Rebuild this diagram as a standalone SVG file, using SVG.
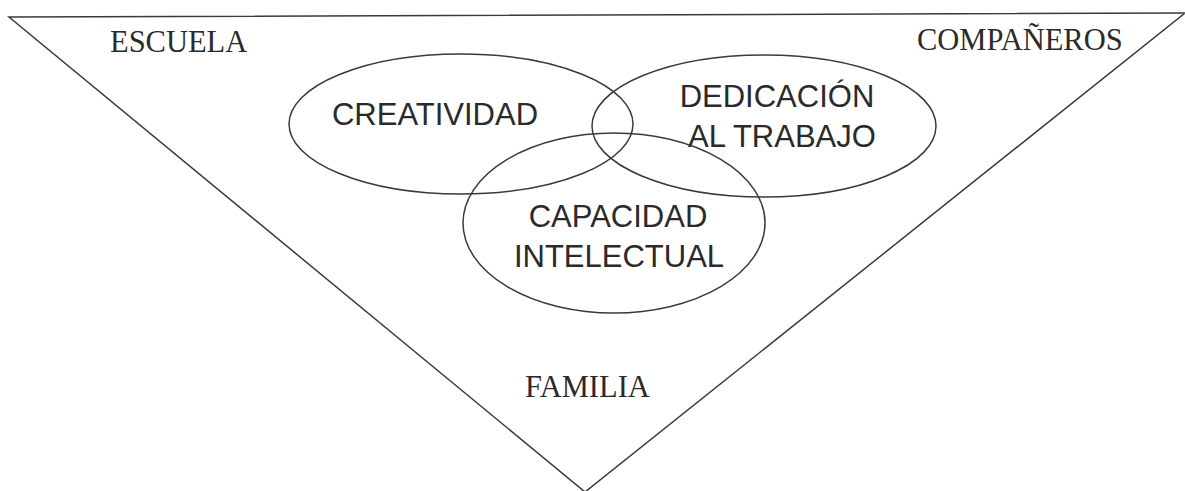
<svg xmlns="http://www.w3.org/2000/svg" width="1185" height="491" viewBox="0 0 1185 491">
<style>
.shape{fill:none;stroke:#3a3a3a;stroke-width:1.5}
.sans{font-family:"Liberation Sans",Arial,sans-serif;font-size:31px;fill:#2a2a2a;text-anchor:middle}
.serif{font-family:"Liberation Serif","Times New Roman",serif;font-size:30.5px;fill:#2a2a2a}
</style>
<rect width="1185" height="491" fill="#ffffff"/>
<g id="triangle">
<polygon class="shape" points="9,17 1185,13 585,492"/>
</g>
<g id="escuela"><text class="serif" x="110" y="52">ESCUELA</text></g>
<g id="companeros"><text class="serif" x="917" y="50">COMPAÑEROS</text></g>
<g id="familia"><text class="serif" x="525" y="397">FAMILIA</text></g>
<g id="creatividad">
<ellipse class="shape" cx="461" cy="124" rx="172" ry="70"/>
<text class="sans" x="435" y="125">CREATIVIDAD</text>
</g>
<g id="dedicacion">
<ellipse class="shape" cx="764" cy="126" rx="172" ry="71"/>
<text class="sans" x="777" y="107">DEDICACIÓN</text>
<text class="sans" x="782" y="147">AL TRABAJO</text>
</g>
<g id="capacidad">
<ellipse class="shape" cx="614" cy="223" rx="151" ry="90"/>
<text class="sans" x="618" y="227">CAPACIDAD</text>
<text class="sans" x="619" y="267">INTELECTUAL</text>
</g>
<g id="connectors"></g>
</svg>
